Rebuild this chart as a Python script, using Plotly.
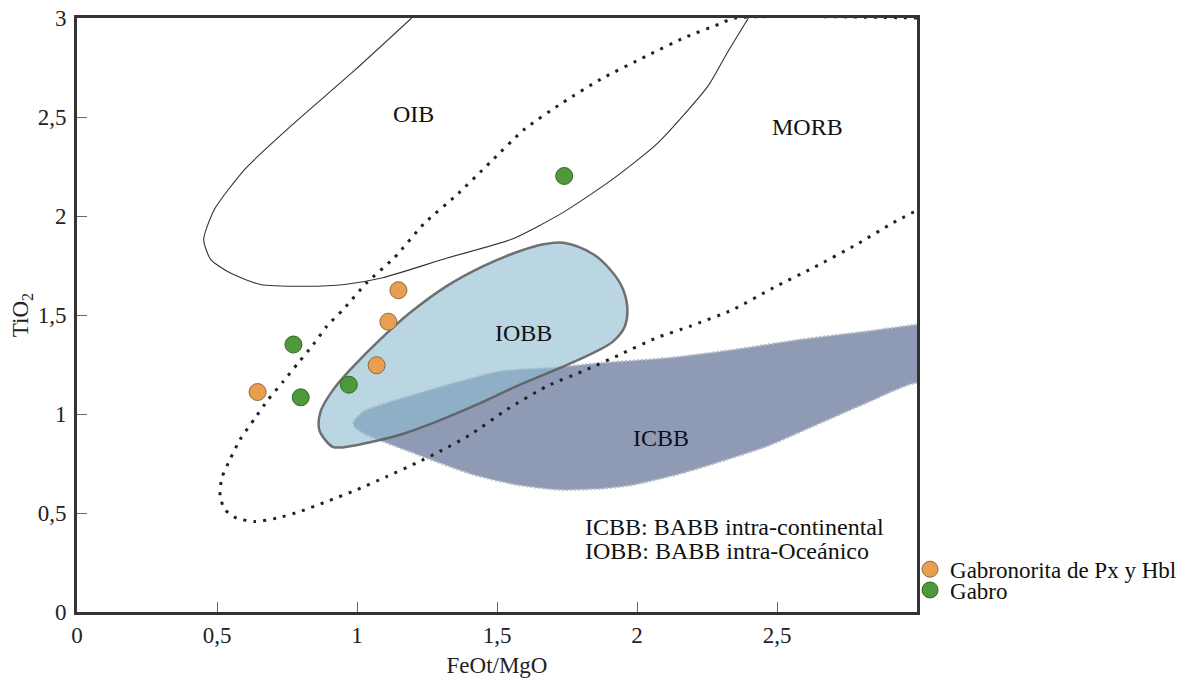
import plotly.graph_objects as go

# ---------------- data ----------------
# Sample points (FeOt/MgO, TiO2)
gabronorita_x = [0.645, 1.148, 1.112, 1.070]
gabronorita_y = [1.111, 1.625, 1.466, 1.246]
gabro_x = [0.773, 0.799, 0.971, 1.740]
gabro_y = [1.351, 1.084, 1.148, 2.202]

# OIB field boundary (solid thin line)
oib_x = [1.195, 0.983, 0.778, 0.600, 0.491, 0.4525, 0.477, 0.546, 0.655, 0.819, 0.956,
         1.092, 1.325, 1.557, 1.735, 1.912, 2.076, 2.254, 2.323, 2.398]
oib_y = [3.000, 2.725, 2.472, 2.237, 2.034, 1.882, 1.781, 1.713, 1.654, 1.645, 1.654,
         1.688, 1.789, 1.885, 2.017, 2.185, 2.371, 2.657, 2.826, 3.000]

# MORB field boundary (dotted line)
morb_x = [3.000, 2.350, 2.295, 2.172, 2.035, 1.871, 1.735, 1.598, 1.475, 1.352, 1.2425,
          1.133, 1.035, 0.951, 0.892, 0.844, 0.790, 0.737, 0.683, 0.636, 0.582, 0.546,
          0.517, 0.511, 0.529, 0.570, 0.636, 0.713, 0.796, 0.892, 0.999, 1.106, 1.213,
          1.296, 1.404, 1.535, 1.678, 1.820, 1.939, 2.070, 2.189, 2.344, 2.487, 2.630,
          2.785, 2.915, 3.000]
morb_y = [3.000, 3.000, 2.970, 2.902, 2.809, 2.691, 2.573, 2.438, 2.270, 2.101, 1.966,
          1.789, 1.663, 1.528, 1.443, 1.351, 1.258, 1.165, 1.073, 0.980, 0.870, 0.769,
          0.676, 0.583, 0.516, 0.474, 0.457, 0.474, 0.507, 0.558, 0.617, 0.684, 0.753,
          0.811, 0.895, 1.022, 1.140, 1.224, 1.300, 1.385, 1.443, 1.528, 1.638, 1.739,
          1.857, 1.966, 2.029]

# IOBB field (light blue polygon)
iobb_x = [1.737, 1.844, 1.904, 1.945, 1.965, 1.957, 1.915, 1.844, 1.725, 1.582, 1.4275,
          1.2725, 1.154, 1.058, 0.987, 0.915, 0.886, 0.865, 0.870, 0.915, 0.987, 1.082,
          1.189, 1.320, 1.451, 1.582, 1.665, 1.737]
iobb_y = [1.865, 1.807, 1.730, 1.646, 1.545, 1.443, 1.367, 1.309, 1.233, 1.148, 1.047,
          0.955, 0.895, 0.861, 0.840, 0.833, 0.870, 0.921, 1.013, 1.123, 1.241, 1.376,
          1.511, 1.646, 1.747, 1.823, 1.857, 1.865]

# ICBB field (slate polygon; continues past the right frame)
icbb_x = [0.987, 1.0225, 1.106, 1.225, 1.368, 1.511, 1.689, 1.868, 2.106, 2.344, 2.582,
          2.820, 3.000, 3.150, 3.150, 3.000, 2.820, 2.642, 2.463, 2.320, 2.165, 1.987,
          1.868, 1.725, 1.570, 1.415, 1.296, 1.201, 1.106, 1.035, 0.993, 0.987]
icbb_y = [0.958, 1.013, 1.056, 1.106, 1.165, 1.216, 1.233, 1.258, 1.283, 1.325, 1.376,
          1.418, 1.452, 1.480, 1.090, 1.157, 1.056, 0.946, 0.836, 0.769, 0.702, 0.642,
          0.622, 0.617, 0.642, 0.693, 0.752, 0.803, 0.853, 0.895, 0.931, 0.958]

# Field labels
field_labels = ["OIB", "MORB", "IOBB", "ICBB"]
field_label_x = [1.20, 2.61, 1.593, 2.086]
field_label_y = [2.515, 2.45, 1.411, 0.880]

note_lines = ["ICBB: BABB intra-continental", "IOBB: BABB intra-Oceánico"]
note_x = 1.807
note_y = [0.430, 0.309]

x_tickvals = [0, 0.5, 1, 1.5, 2, 2.5]
x_ticktext = ["0", "0,5", "1", "1,5", "2", "2,5"]
y_tickvals = [0, 0.5, 1, 1.5, 2, 2.5, 3]
y_ticktext = ["0", "0,5", "1", "1,5", "2", "2,5", "3"]

FONT = "Liberation Serif, Times New Roman, serif"

fig = go.Figure()

fig.add_trace(go.Scatter(x=icbb_x, y=icbb_y, mode="lines", fill="toself",
                         fillcolor="#8f9ab5",
                         line=dict(color="#b8bdc8", width=2, dash="2px,2px",
                                   shape="spline", smoothing=0.6),
                         showlegend=False, hoverinfo="skip"))
fig.add_trace(go.Scatter(x=iobb_x, y=iobb_y, mode="lines", fill="toself",
                         fillcolor="rgba(143,188,207,0.61)",
                         line=dict(color="rgba(90,90,90,0.85)", width=2.5, shape="spline"),
                         showlegend=False, hoverinfo="skip"))
fig.add_trace(go.Scatter(x=oib_x, y=oib_y, mode="lines",
                         line=dict(color="#333333", width=1.1, shape="spline", smoothing=0.6),
                         showlegend=False, hoverinfo="skip"))
fig.add_trace(go.Scatter(x=morb_x, y=morb_y, mode="lines",
                         line=dict(color="#222222", width=3, dash="3px,7px", shape="spline", smoothing=0.6),
                         showlegend=False, hoverinfo="skip"))

fig.add_trace(go.Scatter(x=gabronorita_x, y=gabronorita_y, mode="markers",
                         name="Gabronorita de Px y Hbl", legend="legend",
                         marker=dict(size=17, color="#e8a050", line=dict(color="#8a6a40", width=1))))
fig.add_trace(go.Scatter(x=gabro_x, y=gabro_y, mode="markers", name="Gabro", legend="legend2",
                         marker=dict(size=17, color="#4e9a3a", line=dict(color="#2e6a22", width=1))))

for t, x, y in zip(field_labels, field_label_x, field_label_y):
    fig.add_annotation(x=x, y=y, text=t, showarrow=False,
                       font=dict(family=FONT, size=24, color="#111111"))
for t, y in zip(note_lines, note_y):
    fig.add_annotation(x=note_x, y=y, text=t, showarrow=False, xanchor="left",
                       font=dict(family=FONT, size=24, color="#111111"))

legend_style = dict(xanchor="left", yanchor="middle",
                    font=dict(family=FONT, size=23, color="#111111"),
                    itemwidth=30, bgcolor="rgba(0,0,0,0)")

fig.update_layout(
    width=1185, height=677,
    margin=dict(l=69, r=276, t=10, b=73, autoexpand=False),
    plot_bgcolor="white", paper_bgcolor="white",
    separators=",.",
    font=dict(family=FONT, size=23, color="#222222"),
    legend=dict(x=0.9917, y=0.072, **legend_style),
    legend2=dict(x=0.9917, y=0.037, **legend_style),
    xaxis=dict(range=[0, 3], showgrid=False, zeroline=False, automargin=False,
               showline=True, mirror=True, linewidth=3, linecolor="#333333",
               ticks="inside", ticklen=10, tickwidth=1, tickcolor="#666666",
               tickvals=x_tickvals, ticktext=x_ticktext, ticklabelstandoff=0,
               ticklabeloverflow="allow",
               title=dict(text="FeOt/MgO", standoff=11, font=dict(family=FONT, size=23))),
    yaxis=dict(range=[0, 3], showgrid=False, zeroline=False, automargin=False,
               showline=True, mirror=True, linewidth=3, linecolor="#333333",
               ticks="inside", ticklen=10, tickwidth=1, tickcolor="#666666",
               tickvals=y_tickvals, ticktext=y_ticktext, ticklabelstandoff=3,
               ticklabeloverflow="allow",
               title=dict(text="TiO<sub>2</sub>", standoff=6, font=dict(family=FONT, size=23))),
)

fig.write_html("out.html")
